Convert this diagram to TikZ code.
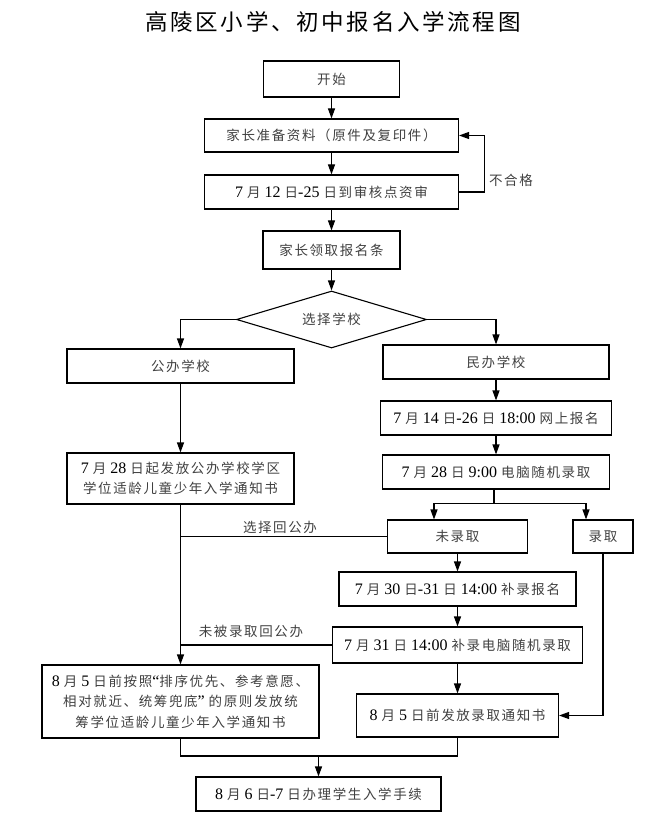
\documentclass[tikz,border=0pt]{standalone}
\usepackage{fontspec}
\setmainfont{Liberation Serif}
\newfontfamily\cjkfont[LetterSpace=12]{Noto Sans CJK SC}
\newfontfamily\cjktitle[LetterSpace=12]{Noto Sans CJK SC}
\usetikzlibrary{arrows.meta,shapes.geometric}
\newcommand\C[1]{{\cjkfont\fontsize{13.5}{20.5}\selectfont\color{black!75}#1}}
\tikzset{
  box/.style={draw, line width=1.1pt, inner sep=0pt, align=center,
    font=\fontsize{16}{20.5}\selectfont},
  arr/.style={line width=1.1pt, -{Triangle[length=10pt,width=7pt]}},
  ln/.style={line width=1.1pt},
  lbl/.style={inner sep=0pt},
}
\begin{document}
\begin{tikzpicture}[x=1pt,y=-1pt]
\useasboundingbox (0,0) rectangle (666,818);
\node[lbl] (title) at (333,22) {\cjktitle\fontsize{22.5}{26}\selectfont 高陵区小学、初中报名入学流程图};

\node[box,minimum width=136pt,minimum height=36pt] (start) at (331.5,79) {\C{开始}};
\node[box,minimum width=254pt,minimum height=33pt] (prep) at (331.5,135.5) {\C{家长准备资料（原件及复印件）}};
\node[box,minimum width=254pt,minimum height=34pt] (check) at (331.5,192) {7 \C{月} 12 \C{日}-25 \C{日到审核点资审}};
\node[box,minimum width=137pt,minimum height=38pt] (recv) at (331.5,250) {\C{家长领取报名条}};
\node[draw,line width=1.1pt,diamond,inner sep=0pt,minimum width=190pt,minimum height=57pt,shape aspect=3.3] (dia) at (331.5,319.5) {\C{选择学校}};

\node[box,minimum width=227pt,minimum height=34pt] (pub) at (180.5,366) {\C{公办学校}};
\node[box,minimum width=227pt,minimum height=51pt] (pub2) at (180.5,478.5) {7 \C{月} 28 \C{日起发放公办学校学区}\\\C{学位适龄儿童少年入学通知书}};

\node[box,minimum width=226pt,minimum height=34pt] (priv) at (496,362) {\C{民办学校}};
\node[box,minimum width=231pt,minimum height=34pt] (p14) at (496,418) {7 \C{月} 14 \C{日}-26 \C{日} 18:00 \C{网上报名}};
\node[box,minimum width=227pt,minimum height=34pt] (p28) at (496,472) {7 \C{月} 28 \C{日} 9:00 \C{电脑随机录取}};

\node[box,minimum width=140pt,minimum height=33pt] (unadm) at (457.5,536.5) {\C{未录取}};
\node[box,minimum width=60pt,minimum height=33pt] (adm) at (603,536.5) {\C{录取}};
\node[box,minimum width=237pt,minimum height=34pt] (p30) at (457.5,589) {7 \C{月} 30 \C{日}-31 \C{日} 14:00 \C{补录报名}};
\node[box,minimum width=250pt,minimum height=36pt] (p31) at (457.5,645) {7 \C{月} 31 \C{日} 14:00 \C{补录电脑随机录取}};

\node[box,minimum width=277pt,minimum height=73pt] (fl) at (180.5,701.5) {8 \C{月} 5 \C{日前按照}“\C{排序优先、参考意愿、}\\\C{相对就近、统筹兜底}” \C{的原则发放统}\\\C{筹学位适龄儿童少年入学通知书}};
\node[box,minimum width=202pt,minimum height=43pt] (fr) at (457.5,715.5) {8 \C{月} 5 \C{日前发放录取通知书}};
\node[box,minimum width=245pt,minimum height=34pt] (last) at (318.5,794) {8 \C{月} 6 \C{日}-7 \C{日办理学生入学手续}};

% labels
\node[lbl] (lbA) at (511,180) {\C{不合格}};
\node[lbl] (lbB) at (280,527) {\C{选择回公办}};
\node[lbl] (lbC) at (251,631) {\C{未被录取回公办}};

% connectors
\draw[arr] (start) -- (prep);
\draw[arr] (prep) -- (check);
\draw[arr] (check) -- (recv);
\draw[arr] (recv) -- (dia);
\draw[arr] (check.east) -- ++(25.5,0) |- (prep.east);
\draw[arr] (dia.west) -| (pub.north);
\draw[arr] (dia.east) -| (priv.north);
\draw[arr] (pub) -- (pub2);
\draw[arr] (priv) -- (p14);
\draw[arr] (p14) -- (p28);
\coordinate (br) at (494,503.5);
\draw[ln] (p28.south -| br) -- (br);
\draw[arr] (br) -| ([xshift=-23.5pt]unadm.north);
\draw[arr] (br) -| ([xshift=-17pt]adm.north);
\draw[arr] (unadm) -- (p30);
\draw[arr] (p30) -- (p31);
\draw[arr] (p31) -- (fr);
\draw[ln] (unadm.west) -- (unadm.west -| pub2.south);
\draw[ln] (p31.west) -- (p31.west -| pub2.south);
\draw[arr] (pub2) -- (fl);
\draw[arr] (adm.south) |- (fr.east);
\coordinate (mg) at (318.5,756);
\draw[ln] (fl.south) |- (fr.south |- mg) -- (fr.south);
\draw[arr] (mg) -- (last.north);
\end{tikzpicture}
\end{document}
